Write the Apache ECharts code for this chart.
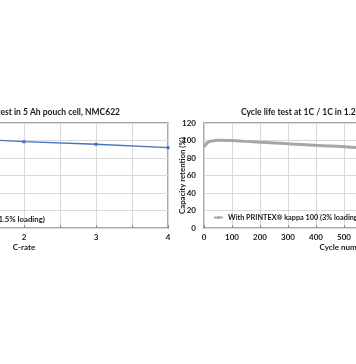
<!DOCTYPE html>
<html>
<head>
<meta charset="utf-8">
<script src="https://cdn.jsdelivr.net/npm/echarts@6/dist/echarts.min.js"></script>
<style>
html,body{margin:0;padding:0;background:#fff;}
#c{width:356px;height:364px;}
</style>
</head>
<body>
<div id="c"></div>
<script>
// Left chart: rate capability
var leftTitle = 'Rate capability test in 5 Ah pouch cell, NMC622';
var leftSeriesName = 'With PRINTEX\u00AE kappa 100 (1.5% loading)';
var leftCRates = [0.5, 1, 2, 3, 4];
var leftRetention = [105, 103.5, 98.6, 95.7, 91.8];
var leftXName = 'C-rate';

// Right chart: cycle life
var rightTitle = 'Cycle life test at 1C / 1C in 1.2 Ah pouch cell, NMC622';
var rightSeriesName = 'With PRINTEX\u00AE kappa 100 (3% loading)';
var rightCycles =    [0,    5,  10,   15,   20,   30,   40,    50,    60,    80,   100,  150,  200,  250,  300,  350,  400,  450,  500,  550,  560];
var rightRetention = [92.5, 95, 96.8, 98.0, 98.8, 99.6, 100.0, 100.2, 100.2, 100.1, 99.9, 99.0, 98.1, 97.2, 96.3, 95.4, 94.5, 93.7, 92.9, 91.8, 91.6];
var rightXName = 'Cycle number';
var rightYName = 'Capacity retention (%)';
var yTicks = [0, 20, 40, 60, 80, 100, 120];

var FONT = 'Lato';
var txt = {fontFamily: FONT, fontWeight: 'bold', fontSize: 8, color: '#1a1a1a'};

function pairs(xs, ys){ return xs.map(function(x,i){ return [x, ys[i]]; }); }

var chart = echarts.init(document.getElementById('c'), null, {renderer:'canvas'});
var axisLineStyle = {show:false};
var gridLine = {show:true, lineStyle:{color:'#d9d9d9', width:1}};

chart.setOption({
  animation:false,
  backgroundColor:'#fff',
  title:[
    {text:leftTitle, right:236, top:108, padding:0, textStyle:Object.assign({}, txt, {fontSize:8.5})},
    {text:rightTitle, left:241, top:108, padding:0, textStyle:Object.assign({}, txt, {fontSize:8.5})}
  ],
  legend:[
    {data:[leftSeriesName], right:311, top:215, padding:0, itemWidth:9, itemHeight:4, textStyle:Object.assign({}, txt, {fontSize:7.8})},
    {data:[rightSeriesName], left:213, top:214, padding:0, itemWidth:9, itemHeight:4, textStyle:Object.assign({}, txt, {fontSize:7.3})}
  ],
  grid:[
    {left:-120, width:288, top:123, height:105, show:true, borderColor:'#8a8a8a', borderWidth:1.5, containLabel:false, outerBoundsMode:'none'},
    {left:204, width:280, top:123, height:105, show:true, borderColor:'#8a8a8a', borderWidth:1.5, containLabel:false, outerBoundsMode:'none'}
  ],
  xAxis:[
    {gridIndex:0, type:'value', min:0, max:4, interval:0.5,
     name:leftXName, nameLocation:'middle', nameGap:15, nameMoveOverlap:false, nameTextStyle:txt,
     axisLine:axisLineStyle, axisTick:{show:true, inside:true, length:3, lineStyle:{color:'#8a8a8a'}},
     splitLine:gridLine,
     axisLabel:Object.assign({}, txt, {margin:5, formatter:function(v){ return (v % 1 === 0) ? String(v) : ''; }})},
    {gridIndex:1, type:'value', min:0, max:1000, interval:100,
     name:rightXName, nameLocation:'middle', nameGap:15, nameMoveOverlap:false, nameTextStyle:txt,
     axisLine:axisLineStyle, axisTick:{show:true, inside:true, length:3, lineStyle:{color:'#8a8a8a'}},
     splitLine:gridLine,
     axisLabel:Object.assign({}, txt, {margin:5})}
  ],
  yAxis:[
    {gridIndex:0, type:'value', min:yTicks[0], max:yTicks[yTicks.length-1], interval:20,
     axisLine:axisLineStyle, axisTick:{show:false}, splitLine:gridLine, axisLabel:{show:false}},
    {gridIndex:1, type:'value', min:yTicks[0], max:yTicks[yTicks.length-1], interval:20,
     name:rightYName, nameLocation:'middle', nameGap:18, nameMoveOverlap:false, nameTextStyle:Object.assign({}, txt, {fontSize:7.8}),
     axisLine:axisLineStyle, axisTick:{show:false}, splitLine:gridLine,
     axisLabel:Object.assign({}, txt, {margin:8})}
  ],
  series:[
    {name:leftSeriesName, type:'line', xAxisIndex:0, yAxisIndex:0,
     data:pairs(leftCRates, leftRetention),
     symbol:'rect', symbolSize:3, showSymbol:true,
     lineStyle:{color:'#4472c4', width:1.3}, itemStyle:{color:'#4472c4'}},
    {name:rightSeriesName, type:'line', xAxisIndex:1, yAxisIndex:1,
     data:pairs(rightCycles, rightRetention),
     symbol:'circle', symbolSize:3, showSymbol:false, smooth:0.3,
     lineStyle:{color:'#a6a6a6', width:3}, itemStyle:{color:'#a6a6a6'}}
  ]
});
</script>
</body>
</html>
